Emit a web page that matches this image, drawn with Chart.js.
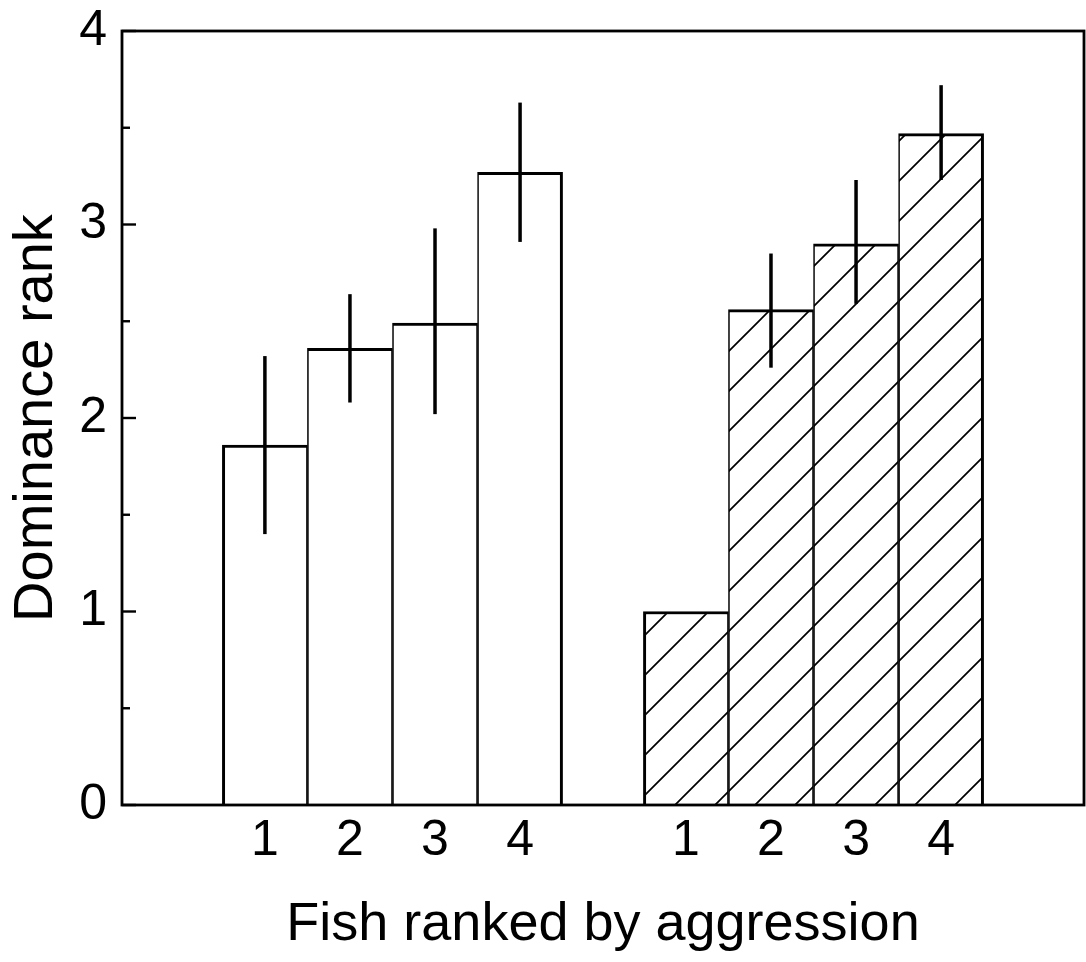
<!DOCTYPE html>
<html>
<head>
<meta charset="utf-8">
<script src="https://cdn.jsdelivr.net/npm/chart.js@4.4.1/dist/chart.umd.min.js"></script>
<style>
    html, body { margin: 0; padding: 0; background: #fff; }
    #wrap { width: 1086px; height: 962px; }
</style>
</head>
<body>
<div id="wrap"><canvas id="chart"></canvas></div>
<script>
// values
const fishRanks = ['1', '2', '3', '4'];
const openMeans = [1.86, 2.36, 2.49, 3.27];
const openLow = [1.40, 2.08, 2.02, 2.91];
const openHigh = [2.32, 2.64, 2.98, 3.63];
const hatchedMeans = [1.00, 2.56, 2.90, 3.47];
const hatchedLow = [null, 2.26, 2.59, 3.23];
const hatchedHigh = [null, 2.85, 3.23, 3.72];
const yTickLabels = ['0', '1', '2', '3', '4'];

// x slots for the two groups of bars
const openPos = fishRanks.map((_, i) => i + 1);
const hatchedPos = fishRanks.map((_, i) => i + 5.95);
const xTickPos = openPos.concat(hatchedPos);
const xTickLabels = fishRanks.concat(fishRanks);

const FONT = '"Liberation Sans", Arial, Helvetica, sans-serif';

// diagonal hatch fill
function makeHatch() {
    const s = 40;
    const c = document.createElement('canvas');
    c.width = s;
    c.height = s;
    const g = c.getContext('2d');
    g.fillStyle = '#fff';
    g.fillRect(0, 0, s, s);
    g.strokeStyle = '#000';
    g.lineWidth = 1.7;
    g.beginPath();
    g.moveTo(-2, s + 2);
    g.lineTo(s + 2, -2);
    g.moveTo(-2, 2);
    g.lineTo(2, -2);
    g.moveTo(s - 2, s + 2);
    g.lineTo(s + 2, s - 2);
    g.stroke();
    return g.createPattern(c, 'repeat');
}

const edgeWidth = (ctx) => ({
    top: 3,
    bottom: 0,
    left: ctx.dataIndex === 0 ? 3 : 1.6,
    right: ctx.dataIndex === fishRanks.length - 1 ? 3 : 1.6,
});

const errorBars = {
    id: 'errorBars',
    afterDatasetsDraw(chart) {
        const { ctx, scales: { x, y } } = chart;
        const sets = [[openPos, openLow, openHigh], [hatchedPos, hatchedLow, hatchedHigh]];
        ctx.save();
        ctx.strokeStyle = '#000';
        ctx.lineWidth = 3.5;
        sets.forEach(([pos, lo, hi]) => {
            pos.forEach((p, i) => {
                if (lo[i] == null) return;
                const px = x.getPixelForValue(p);
                ctx.beginPath();
                ctx.moveTo(px, y.getPixelForValue(lo[i]));
                ctx.lineTo(px, y.getPixelForValue(hi[i]));
                ctx.stroke();
            });
        });
        ctx.restore();
    }
};

const frame = {
    id: 'frame',
    afterDraw(chart) {
        const { ctx, chartArea: a, scales: { y } } = chart;
        ctx.save();
        ctx.strokeStyle = '#000';
        ctx.lineWidth = 2.8;
        ctx.strokeRect(a.left, a.top, a.right - a.left, a.bottom - a.top);
        // inward tick marks on the y axis
        ctx.lineWidth = 2.4;
        y.ticks.forEach(t => {
            const py = y.getPixelForValue(t.value);
            const len = Number.isInteger(t.value) ? 14 : 8;
            ctx.beginPath();
            ctx.moveTo(a.left, py);
            ctx.lineTo(a.left + len, py);
            ctx.stroke();
        });
        ctx.restore();
    }
};

new Chart(document.getElementById('chart'), {
    type: 'bar',
    data: {
        datasets: [
            {
                label: 'open',
                data: openPos.map((p, i) => ({ x: p, y: openMeans[i] })),
                backgroundColor: '#fff',
                borderColor: '#000',
                borderWidth: edgeWidth,
                borderSkipped: 'start',
                grouped: false,
                barPercentage: 1,
                categoryPercentage: 1,
            },
            {
                label: 'hatched',
                data: hatchedPos.map((p, i) => ({ x: p, y: hatchedMeans[i] })),
                backgroundColor: makeHatch(),
                borderColor: '#000',
                borderWidth: edgeWidth,
                borderSkipped: 'start',
                grouped: false,
                barPercentage: 1,
                categoryPercentage: 1,
            }
        ]
    },
    options: {
        responsive: true,
        maintainAspectRatio: false,
        animation: false,
        layout: { padding: { top: 31, right: 2, left: 0, bottom: 0 } },
        plugins: {
            legend: { display: false },
            tooltip: { enabled: false }
        },
        scales: {
            x: {
                type: 'linear',
                offset: false,
                min: -0.68,
                max: 10.63,
                grid: { display: false, drawTicks: false, offset: false },
                border: { display: false },
                afterBuildTicks: (scale) => {
                    scale.ticks = xTickPos.map(v => ({ value: v }));
                },
                afterFit: (scale) => {
                    scale.height = 157;
                    scale.paddingLeft = 0;
                    scale.paddingRight = 0;
                },
                ticks: {
                    autoSkip: false,
                    maxRotation: 0,
                    padding: 11,
                    color: '#000',
                    font: { family: FONT, size: 50, lineHeight: 1 },
                    callback: (v, i) => xTickLabels[i]
                },
                title: {
                    display: true,
                    text: 'Fish ranked by aggression',
                    color: '#000',
                    font: { family: FONT, size: 54, lineHeight: 1 },
                    padding: { top: 0, bottom: 10 }
                }
            },
            y: {
                min: 0,
                max: 4,
                grid: { display: false, drawTicks: false },
                border: { display: false },
                afterFit: (scale) => {
                    scale.width = 122;
                    scale.paddingTop = 0;
                    scale.paddingBottom = 0;
                },
                ticks: {
                    stepSize: 0.5,
                    padding: 15,
                    color: '#000',
                    font: { family: FONT, size: 50, lineHeight: 1 },
                    callback: (v) => Number.isInteger(v) ? yTickLabels[v] : ''
                },
                title: {
                    display: true,
                    text: 'Dominance rank',
                    color: '#000',
                    font: { family: FONT, size: 56, lineHeight: 1 },
                    padding: { top: 9, bottom: 0 }
                }
            }
        }
    },
    plugins: [errorBars, frame]
});
</script>
</body>
</html>
